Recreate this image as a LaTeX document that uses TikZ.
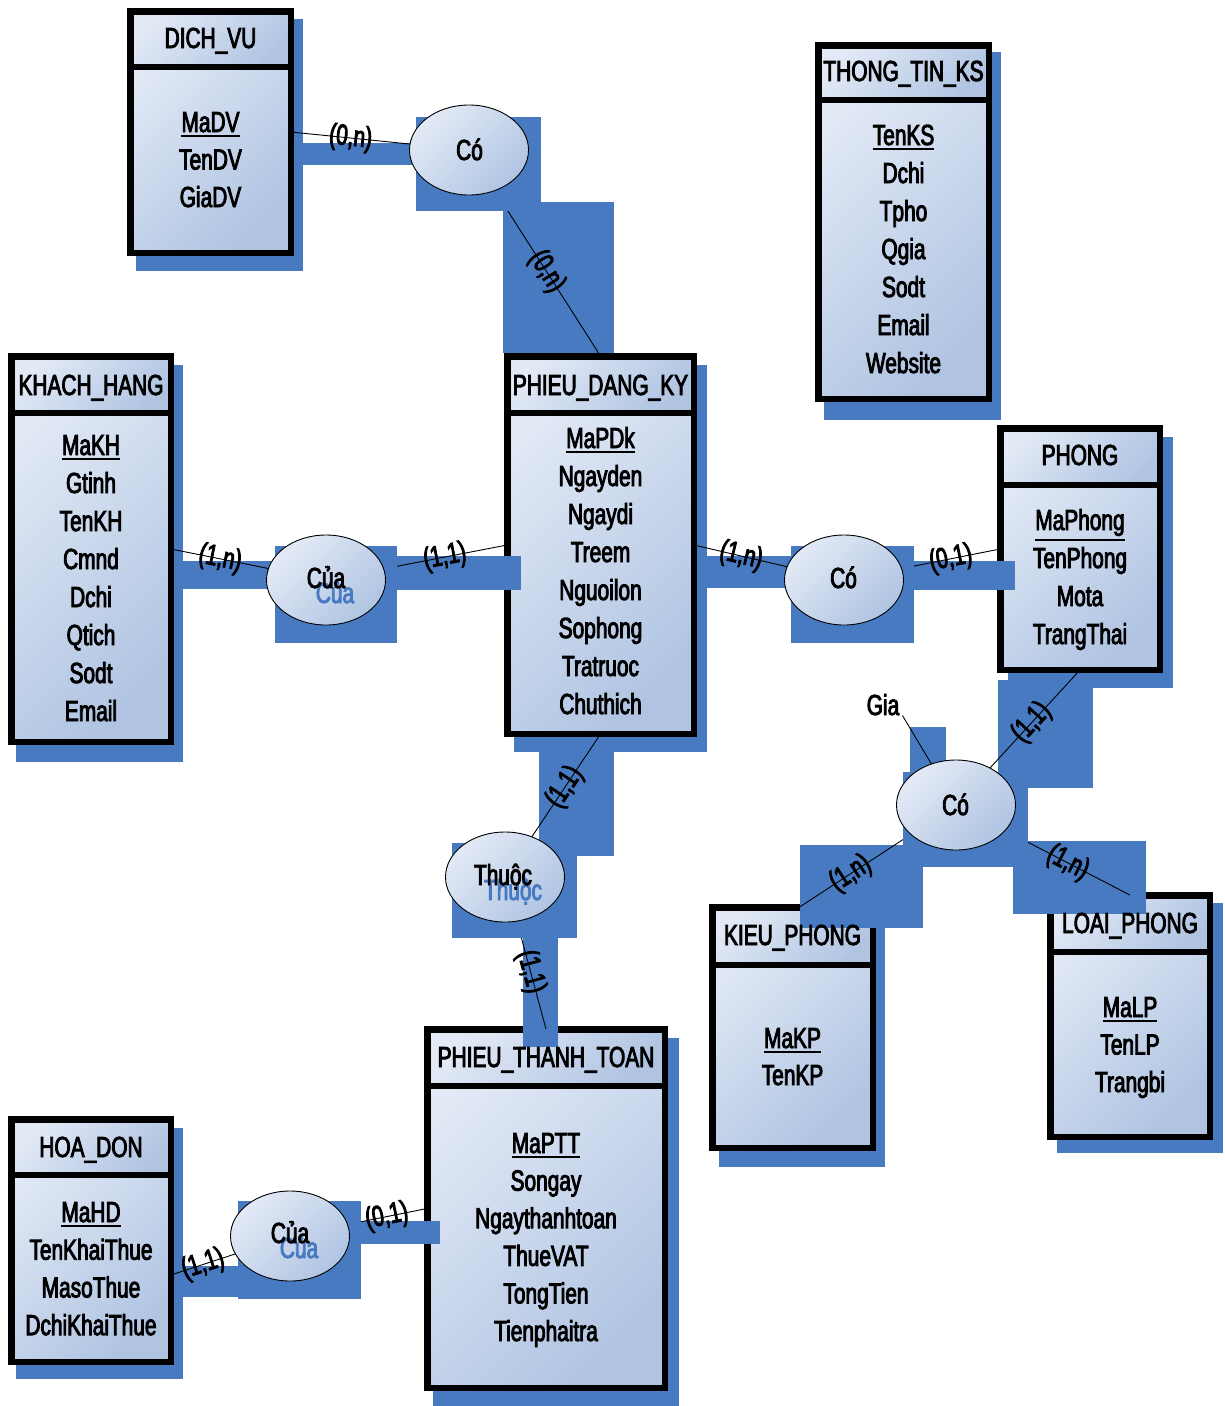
\documentclass[tikz,border=0pt]{standalone}
\usepackage{fontspec}
\setmainfont{Liberation Sans}[FakeStretch=0.72,FakeBold=3]
\usetikzlibrary{shapes.geometric}
\definecolor{sb}{RGB}{72,122,194}
\definecolor{bl}{RGB}{227,234,246}
\definecolor{bd}{RGB}{176,196,226}
\newcommand\ulk[1]{\vtop{\hbox{#1}\kern2.5pt\hrule height 2pt}}
\newcommand\txtf{\fontsize{29}{36}\selectfont}
\pgfdeclarelayer{shadows}
\pgfdeclarelayer{boxes}
\pgfdeclarelayer{bands}
\pgfdeclarelayer{lines}
\pgfdeclarelayer{erects}
\pgfdeclarelayer{top}
\pgfsetlayers{shadows,boxes,bands,lines,erects,main,top}
\tikzset{
  shd/.style={fill=sb},
  entshade/.style={left color=bl, right color=bd, shading angle=45},
  rel/.style={ellipse, draw, line width=0.9pt, left color=bl, right color=bd, shading angle=45,
    minimum width=119, minimum height=90, inner sep=0},
  attr/.style={anchor=base, inner sep=0, font=\txtf},
  ghost/.style={anchor=base, inner sep=0, font=\txtf, text=sb},
  conn/.style={line width=0.9pt},
  lab/.style={sloped, inner sep=0, font=\txtf, anchor=center}
}
% entity: name, x1, y1, x2, y2, separator y, header baseline, header text
\newcommand\ERent[8]{%
  \begin{pgfonlayer}{boxes}
    \node[entshade, inner sep=0, minimum width={#4-#2-6.5}, minimum height={#5-#3-6.5}] (#1) at ({(#2+#4)/2},{(#3+#5)/2}) {};
    \path[entshade] ({#2+3.25},{#3+3.25}) rectangle ({#4-3.25},{#6});
    \draw[line width=6.5pt] ({#2+3.25},{#6}) -- ({#4-3.25},{#6});
    \draw[line width=6.5pt] ({#2+3.25},{#3+3.25}) rectangle ({#4-3.25},{#5-3.25});
  \end{pgfonlayer}
  \begin{pgfonlayer}{top}
    \node[attr] (#1h) at ({(#2+#4)/2},#7) {#8};
  \end{pgfonlayer}}
% attributes: prefix, x, first baseline, step, list
\newcommand\ERatt[5]{%
  \begin{pgfonlayer}{top}
    \foreach \t [count=\i] in {#5} {\node[attr] (#1\i) at (#2,{#3+(\i-1)*#4}) {\t};}
  \end{pgfonlayer}}
\begin{document}
\begin{tikzpicture}[x=1pt,y=-1pt]
\useasboundingbox (0,0) rectangle (1225,1406);
\begin{pgfonlayer}{shadows}
  \fill[white] (0,0) rectangle (1225,1406);
  \fill[shd] (136,19) rectangle (303,271);
  \fill[shd] (824,52) rectangle (1001,420);
  \fill[shd] (16,365) rectangle (183,762);
  \fill[shd] (514,365) rectangle (707,752);
  \fill[shd] (1008,437) rectangle (1173,688);
  \fill[shd] (719,917) rectangle (885,1167);
  \fill[shd] (1057,903) rectangle (1223,1153);
  \fill[shd] (433,1038) rectangle (679,1406);
  \fill[shd] (16,1128) rectangle (183,1379);
\end{pgfonlayer}

% entities
\ERent{dv}{127}{8}{294}{256}{67}{48}{DICH\_VU}
\ERatt{dva}{210.5}{132}{37.5}{\ulk{MaDV},TenDV,GiaDV}
\ERent{tt}{815}{42}{992}{402}{100}{81}{THONG\_TIN\_KS}
\ERatt{tta}{903.5}{145}{38}{\ulk{TenKS},Dchi,Tpho,Qgia,Sodt,Email,Website}
\ERent{kh}{8}{353}{174}{745}{413}{395}{KHACH\_HANG}
\ERatt{kha}{91}{455}{38}{\ulk{MaKH},Gtinh,TenKH,Cmnd,Dchi,Qtich,Sodt,Email}
\ERent{pdk}{504}{353}{697}{737}{413}{395}{PHIEU\_DANG\_KY}
\ERatt{pdka}{600.5}{448}{38}{\ulk{MaPDk},Ngayden,Ngaydi,Treem,Nguoilon,Sophong,Tratruoc,Chuthich}
\ERent{phong}{997}{425}{1163}{673}{485}{465}{PHONG}
\ERatt{phonga}{1080}{530}{38}{\ulk{MaPhong},TenPhong,Mota,TrangThai}
\ERent{kieu}{709}{904}{876}{1151}{965}{945}{KIEU\_PHONG}
\ERatt{kieua}{792.5}{1048}{37}{\ulk{MaKP},TenKP}
\ERent{loai}{1047}{892}{1213}{1140}{952}{933}{LOAI\_PHONG}
\ERatt{loaia}{1130}{1017}{37.5}{\ulk{MaLP},TenLP,Trangbi}
\ERent{ptt}{424}{1026}{668}{1391}{1086}{1067}{PHIEU\_THANH\_TOAN}
\ERatt{ptta}{546}{1153}{37.6}{\ulk{MaPTT},Songay,Ngaythanhtoan,ThueVAT,TongTien,Tienphaitra}
\ERent{hd}{8}{1116}{174}{1365}{1175}{1157}{HOA\_DON}
\ERatt{hda}{91}{1222}{37.7}{\ulk{MaHD},TenKhaiThue,MasoThue,DchiKhaiThue}

% bands
\begin{pgfonlayer}{bands}
  \fill[shd] (303,143) rectangle (416,165);
  \fill[shd] (503,202) rectangle (614,353);
  \fill[shd] (183,561) rectangle (275,589);
  \fill[shd] (397,556) rectangle (521,590);
  \fill[shd] (707,556) rectangle (791,588);
  \fill[shd] (914,561) rectangle (1015,590);
  \fill[shd] (910,727) rectangle (946,772);
  \fill[shd] (998,680) rectangle (1093,788);
  \fill[shd] (800,845) rectangle (923,928);
  \fill[shd] (1013,841) rectangle (1146,914);
  \fill[shd] (539,752) rectangle (614,856);
  \fill[shd] (523,938) rectangle (558,1047);
  \fill[shd] (183,1266) rectangle (238,1297);
  \fill[shd] (361,1221) rectangle (440,1244);
\end{pgfonlayer}

% ellipse shadow rectangles
\begin{pgfonlayer}{erects}
  \fill[shd] (416,117) rectangle (541,211);
  \fill[shd] (275,546) rectangle (397,643);
  \fill[shd] (791,546) rectangle (914,643);
  \fill[shd] (903,772) rectangle (1028,867);
  \fill[shd] (452,843) rectangle (577,938);
  \fill[shd] (238,1201) rectangle (361,1299);
\end{pgfonlayer}

% relationships
\node[rel] (r1) at (469,150) {};
\node[rel] (r2) at (326,580) {};
\node[rel] (r3) at (844,580) {};
\node[rel] (r4) at (956,805) {};
\node[rel] (r5) at (505,877) {};
\node[rel] (r6) at (290,1236) {};

\begin{pgfonlayer}{top}
  \node[attr] (r1t) at (469.5,160) {Có};
  \node[ghost] (r2g) at (335,603) {Của};
  \node[attr] (r2t) at (326,588) {Của};
  \node[attr] (r3t) at (843.5,588) {Có};
  \node[attr] (r4t) at (955.5,815) {Có};
  \node[ghost] (r5g) at (513,900) {Thuộc};
  \node[attr] (r5t) at (503,885) {Thuộc};
  \node[ghost] (r6g) at (299,1258) {Của};
  \node[attr] (r6t) at (290,1243) {Của};
  \node[attr] (gia) at (883,715) {Gia};
\end{pgfonlayer}

% connectors
\begin{pgfonlayer}{lines}
  \draw[conn] (dv.east) -- node[lab,pos=.335]{(0,n)} (r1.center);
  \draw[conn] (r1.center) -- node[lab,pos=.59]{(0,n)} (pdk.north);
  \draw[conn] (kh.east) -- node[lab,pos=.317]{(1,n)} (r2.center);
  \draw[conn] (r2.center) -- node[lab,pos=.657]{(1,1)} (pdk.west);
  \draw[conn] (pdk.east) -- node[lab,pos=.314]{(1,n)} (r3.center);
  \draw[conn] (r3.center) -- node[lab,pos=.685]{(0,1)} (phong.west);
  \draw[conn] (phong.south) -- node[lab,pos=.389]{(1,1)} (r4.center);
  \draw[conn] (r4.center) -- node[lab,pos=.673]{(1,n)} ([xshift=7pt]kieu.north);
  \draw[conn] (r4.center) -- node[lab,pos=.642]{(1,n)} (loai.north);
  \draw[conn] ([xshift=3pt]gia.south east) -- (r4.center);
  \draw[conn] (pdk.south) -- node[lab,pos=.372]{(1,1)} (r5.center);
  \draw[conn] (r5.center) -- node[lab,pos=.624]{(1,1)} (ptt.north);
  \draw[conn] ([yshift=-34.5pt]hd.east) -- node[lab,pos=.27]{(1,1)} (r6.center);
  \draw[conn] (r6.center) -- node[lab,pos=.707]{(0,1)} (ptt.west);
\end{pgfonlayer}
\end{tikzpicture}
\end{document}
